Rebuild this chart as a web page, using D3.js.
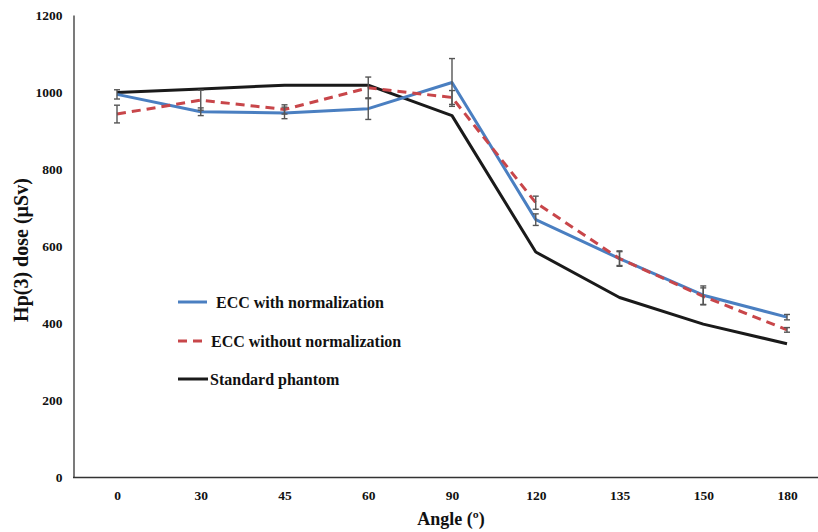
<!DOCTYPE html>
<html><head><meta charset="utf-8">
<script src="https://cdn.jsdelivr.net/npm/d3@7"></script>
<style>body{margin:0;background:#fff}svg{display:block}svg text{font-family:"Liberation Serif","Times New Roman",Times,serif;font-weight:bold}</style>
</head><body>
<svg id="c" width="818" height="532"></svg>
<script>
const angles = ["0","30","45","60","90","120","135","150","180"];
const withNorm = [994, 949, 946, 957, 1025, 669, 568, 473, 416];
const withNormErr = [12, 10, 15, 28, 62, 15, 20, 24, 7];
const withoutNorm = [943, 979, 955, 1011, 986, 713, 568, 470, 383];
const withoutNormErr = [23, 26, 12, 28, 18, 17, 18, 22, 6];
const phantom = [999, 1008, 1018, 1018, 939, 585, 467, 398, 347];
const yTicks = [0, 200, 400, 600, 800, 1000, 1200];
const seriesNames = ["ECC with normalization", "ECC without normalization", "Standard phantom"];

const svg = d3.select("#c");
const x = d3.scalePoint().domain(angles).range([117, 787]);
const y = d3.scaleLinear().domain([0, 1200]).range([477.5, 15]);

// axes
const yAxis = svg.append("g").attr("transform", "translate(73.5,0)")
  .call(d3.axisLeft(y).tickValues(yTicks).tickFormat(d3.format("d")).tickSize(0).tickPadding(11));
yAxis.attr("font-family", null);
yAxis.select(".domain").attr("stroke", "#222").attr("stroke-width", 1.2);
yAxis.selectAll("text").style("font-size", "13.5px").attr("fill", "#111");

const xAxis = svg.append("g").attr("transform", "translate(0,477.5)")
  .call(d3.axisBottom(x).tickSize(0).tickPadding(13));
xAxis.attr("font-family", null);
xAxis.select(".domain").attr("d", "M73,0H818").attr("stroke", "#333").attr("stroke-width", 1.6);
xAxis.selectAll("text").style("font-size", "13.5px").attr("fill", "#111");

svg.append("text").attr("x", 451).attr("y", 525).attr("text-anchor", "middle")
  .style("font-size", "18px").attr("fill", "#111")
  .text("Angle (º)");
svg.append("text").attr("transform", "translate(28,250) rotate(-90)").attr("text-anchor", "middle")
  .style("font-size", "20px").attr("fill", "#111")
  .text("Hp(3) dose (µSv)");

const line = d3.line().x((d, i) => x(angles[i])).y(d => y(d));

// lines
svg.append("path").datum(phantom).attr("d", line).attr("fill", "none")
  .attr("stroke", "#1a1a1a").attr("stroke-width", 3).attr("stroke-linejoin", "round");
svg.append("path").datum(withNorm).attr("d", line).attr("fill", "none")
  .attr("stroke", "#4a7fc1").attr("stroke-width", 3).attr("stroke-linejoin", "round");
svg.append("path").datum(withoutNorm).attr("d", line).attr("fill", "none")
  .attr("stroke", "#c8464a").attr("stroke-width", 3).attr("stroke-dasharray", "9,6");

// error bars
function errBars(vals, errs) {
  const g = svg.append("g").attr("stroke", "#555").attr("stroke-width", 1.4);
  vals.forEach((v, i) => {
    const cx = x(angles[i]), y1 = y(v + errs[i]), y2 = y(v - errs[i]);
    g.append("line").attr("x1", cx).attr("x2", cx).attr("y1", y1).attr("y2", y2);
    g.append("line").attr("x1", cx - 3).attr("x2", cx + 3).attr("y1", y1).attr("y2", y1);
    g.append("line").attr("x1", cx - 3).attr("x2", cx + 3).attr("y1", y2).attr("y2", y2);
  });
}
errBars(withNorm, withNormErr);
errBars(withoutNorm, withoutNormErr);

// legend
const leg = [
  {name: seriesNames[0], color: "#4a7fc1", dash: null, y: 302, x1: 178, x2: 207, tx: 216},
  {name: seriesNames[1], color: "#c8464a", dash: "9,6", y: 341, x1: 178, x2: 205, tx: 211},
  {name: seriesNames[2], color: "#1a1a1a", dash: null, y: 379, x1: 178, x2: 208, tx: 210}
];
leg.forEach(d => {
  svg.append("line").attr("x1", d.x1).attr("x2", d.x2).attr("y1", d.y).attr("y2", d.y)
    .attr("stroke", d.color).attr("stroke-width", 3).attr("stroke-dasharray", d.dash);
  svg.append("text").attr("x", d.tx).attr("y", d.y + 5.5)
    .style("font-size", "16px").attr("fill", "#111").text(d.name);
});
</script>
</body></html>
